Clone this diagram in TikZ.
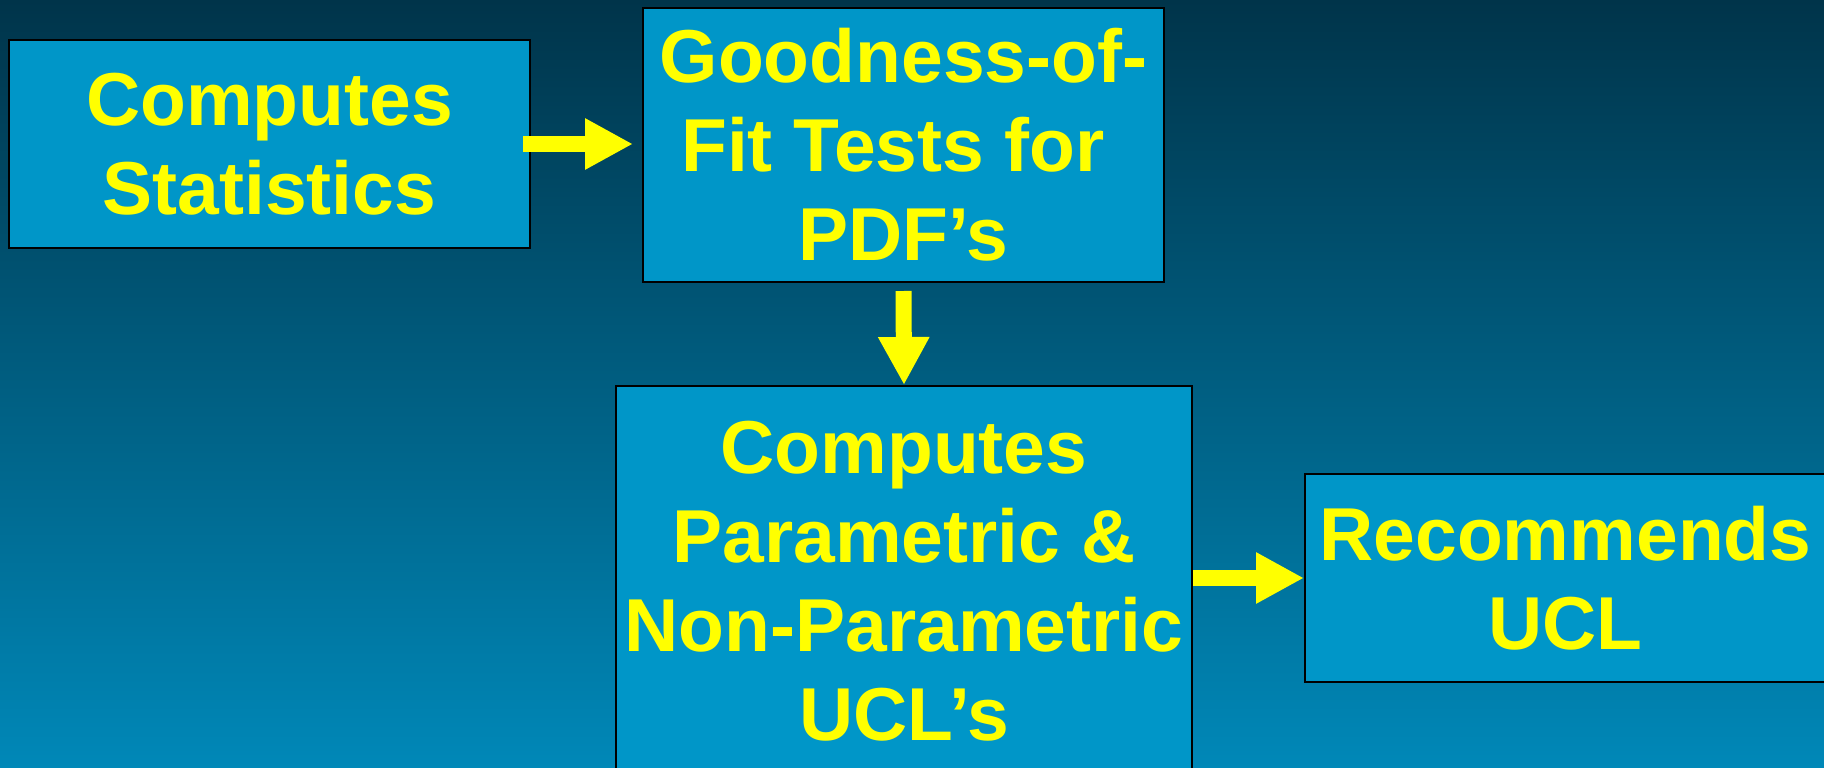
\documentclass[tikz,border=0pt]{standalone}
\usepackage{fontspec}
\setmainfont{Liberation Sans}
\usetikzlibrary{arrows.meta}
\definecolor{bgtop}{HTML}{00344A}
\definecolor{bgbot}{HTML}{0088B8}
\definecolor{boxfill}{HTML}{0096C8}
\definecolor{txt}{HTML}{FFFF00}
\tikzset{
  stepbox/.style={draw=black, line width=2pt, fill=boxfill, inner sep=0pt,
    text=txt, align=center, font=\fontsize{75}{89}\selectfont\bfseries},
  fat/.style={draw=txt, line width=16pt, -{Triangle[length=48pt,width=48pt]}}
}
\begin{document}
\begin{tikzpicture}[x=1pt,y=-1pt]
\useasboundingbox (0,0) rectangle (1824,768);
\shade[top color=bgtop, bottom color=bgbot] (0,0) rectangle (1824,768);
\node[stepbox, minimum width=521pt, minimum height=208pt] (b1) at (269.5,144) {Computes\\Statistics};
\node[stepbox, minimum width=521pt, minimum height=274pt] (b2) at (903.5,145) {Goodness-of-\\Fit Tests for\kern0.278em\\PDF’s};
\node[stepbox, minimum width=576pt, minimum height=390pt] (b3) at (904,581) {Computes\\Parametric \&\\Non-Parametric\\UCL’s};
\node[stepbox, minimum width=521pt, minimum height=208pt] (b4) at (1565.5,578) {Recommends\\UCL};
\draw[fat, shorten <=-8pt, shorten >=9pt] (b1.east) -- (b1.east -| b2.west);
\draw[fat, shorten <=8pt] (b2.south) -- (b3.north);
\draw[fat] (b3.east |- b4.west) -- (b4.west);
\end{tikzpicture}
\end{document}
